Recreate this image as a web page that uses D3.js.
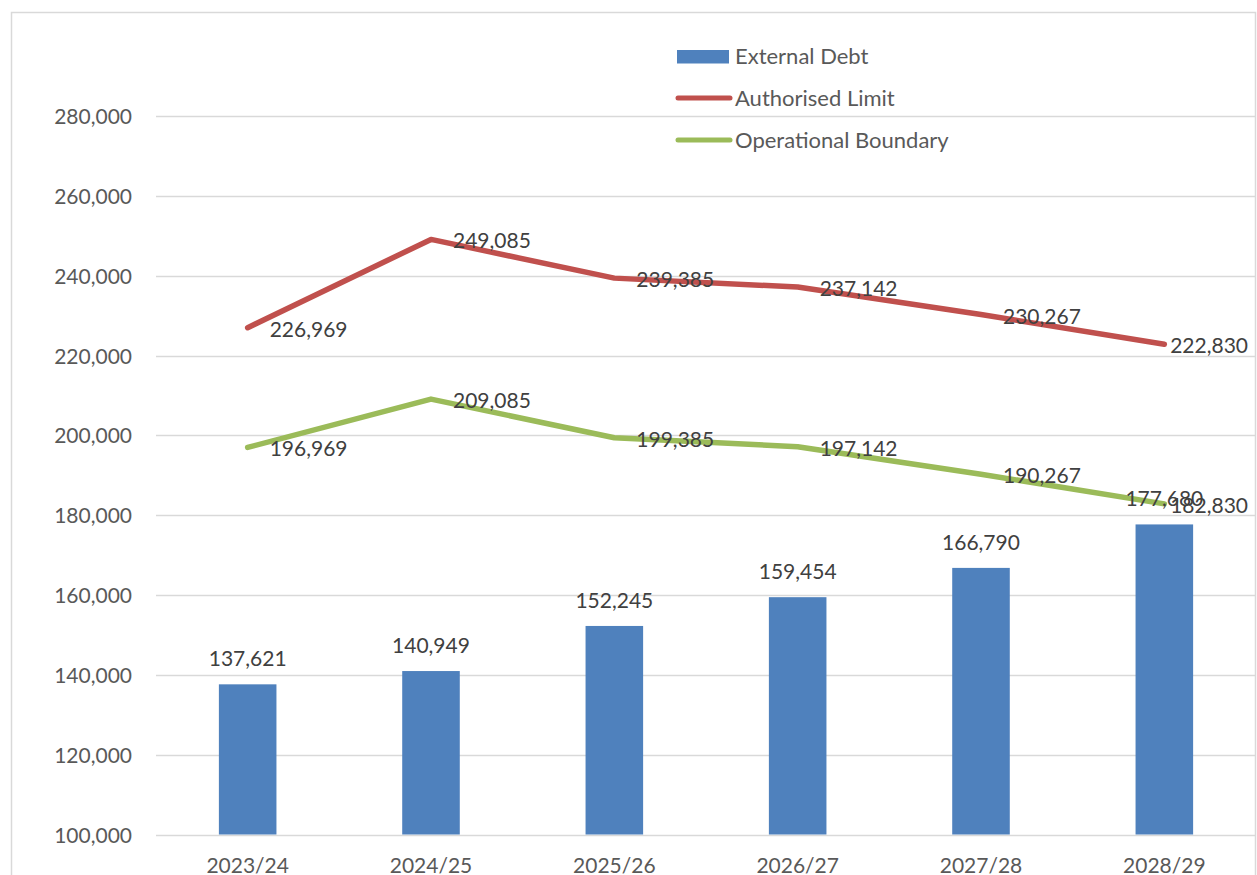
<!DOCTYPE html>
<html>
<head>
<meta charset="utf-8">
<script src="https://cdn.jsdelivr.net/npm/d3@7"></script>
<style>
  html, body { margin: 0; padding: 0; background: #fff; }
  svg { display: block; }
  text { font-family: Lato, "Open Sans", sans-serif; }
</style>
</head>
<body>
<svg id="chart" width="1257" height="875"></svg>
<script>
const categories = ["2023/24", "2024/25", "2025/26", "2026/27", "2027/28", "2028/29"];
const externalDebt = [137621, 140949, 152245, 159454, 166790, 177680];
const authorisedLimit = [226969, 249085, 239385, 237142, 230267, 222830];
const operationalBoundary = [196969, 209085, 199385, 197142, 190267, 182830];
const yTicks = [100000, 120000, 140000, 160000, 180000, 200000, 220000, 240000, 260000, 280000];
const seriesNames = ["External Debt", "Authorised Limit", "Operational Boundary"];

const colors = { bar: "#4F81BD", red: "#C0504D", green: "#9BBB59" };
const fmt = d3.format(",");

const svg = d3.select("#chart");

// chart border
svg.append("rect").attr("x", 11.5).attr("y", 12.5).attr("width", 1244).attr("height", 900)
  .attr("fill", "#fff").attr("stroke", "#D9D9D9").attr("stroke-width", 1.5);

const plot = { left: 156, right: 1256, top: 116, bottom: 834.5 };

const x = d3.scaleBand().domain(categories).range([plot.left, plot.right]).padding(0);
const y = d3.scaleLinear().domain([100000, 280000]).range([plot.bottom, plot.top]);

// gridlines
svg.append("g").selectAll("line").data(yTicks).join("line")
  .attr("x1", plot.left).attr("x2", 1255)
  .attr("y1", d => Math.round(y(d)) + 0.5).attr("y2", d => Math.round(y(d)) + 0.5)
  .attr("stroke", "#D9D9D9").attr("stroke-width", 1.5);

// y axis labels
const yAxis = d3.axisLeft(y).tickValues(yTicks).tickFormat(fmt).tickSize(0).tickPadding(0);
const yg = svg.append("g").attr("transform", `translate(132,0)`).call(yAxis);
yg.select(".domain").remove();
yg.selectAll("text").attr("font-size", 21).attr("fill", "#595959")
  .attr("font-family", "Lato, 'Open Sans', sans-serif").attr("dy", "0.36em");

// x axis labels
const xAxis = d3.axisBottom(x).tickSize(0).tickPadding(0);
const xg = svg.append("g").attr("transform", `translate(0,${plot.bottom})`).call(xAxis);
xg.select(".domain").remove();
xg.selectAll("text").attr("font-size", 21).attr("fill", "#595959")
  .attr("font-family", "Lato, 'Open Sans', sans-serif").attr("y", 38).attr("dy", 0);

// bars
const barW = x.bandwidth() * 0.314;
svg.append("g").selectAll("rect").data(externalDebt).join("rect")
  .attr("x", (d, i) => x(categories[i]) + x.bandwidth() / 2 - barW / 2)
  .attr("y", d => y(d))
  .attr("width", barW)
  .attr("height", d => y(100000) - y(d))
  .attr("fill", colors.bar);

// lines
const line = d3.line()
  .x((d, i) => x(categories[i]) + x.bandwidth() / 2)
  .y(d => y(d));
[[authorisedLimit, colors.red], [operationalBoundary, colors.green]].forEach(([data, c]) => {
  svg.append("path").datum(data).attr("d", line)
    .attr("fill", "none").attr("stroke", c).attr("stroke-width", 5.5)
    .attr("stroke-linejoin", "round").attr("stroke-linecap", "round");
});

// bar labels
svg.append("g").selectAll("text").data(externalDebt).join("text")
  .attr("x", (d, i) => x(categories[i]) + x.bandwidth() / 2)
  .attr("y", d => y(d) - 18)
  .attr("text-anchor", "middle").attr("font-size", 21).attr("fill", "#404040")
  .text(d => fmt(d));

// line labels (right of points, clamped inside chart area)
[authorisedLimit, operationalBoundary].forEach(data => {
  svg.append("g").selectAll("text").data(data).join("text")
    .attr("x", (d, i) => x(categories[i]) + x.bandwidth() / 2 + 22)
    .attr("y", d => y(d) + 9)
    .attr("font-size", 21).attr("fill", "#404040")
    .text(d => fmt(d))
    .each(function () {
      const w = this.getComputedTextLength();
      const xx = +this.getAttribute("x");
      if (xx + w > 1248) this.setAttribute("x", 1248 - w);
    });
});

// legend
const legend = svg.append("g");
const legY = [56.5, 98, 140];
legend.append("rect").attr("x", 677).attr("y", 50).attr("width", 52).attr("height", 13.5).attr("fill", colors.bar);
legend.append("line").attr("x1", 678).attr("x2", 730).attr("y1", legY[1]).attr("y2", legY[1])
  .attr("stroke", colors.red).attr("stroke-width", 5).attr("stroke-linecap", "round");
legend.append("line").attr("x1", 678).attr("x2", 730).attr("y1", legY[2]).attr("y2", legY[2])
  .attr("stroke", colors.green).attr("stroke-width", 5).attr("stroke-linecap", "round");
legend.selectAll("text.leg").data(seriesNames).join("text").attr("class", "leg")
  .attr("x", 735).attr("y", (d, i) => legY[i] + 7.5)
  .attr("font-size", 22).attr("fill", "#595959").text(d => d);
</script>
</body>
</html>
